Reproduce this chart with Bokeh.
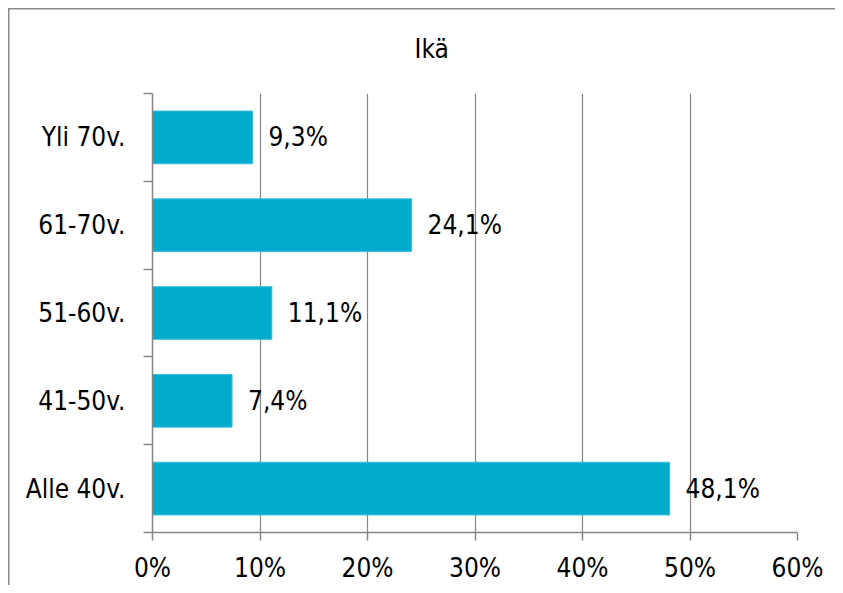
from bokeh.plotting import figure
from bokeh.models import ColumnDataSource, FixedTicker, LabelSet, Range1d
from bokeh.core.properties import value
from bokeh.embed import file_html
from bokeh.resources import INLINE

categories = ["Alle 40v.", "41-50v.", "51-60v.", "61-70v.", "Yli 70v."]
values = [48.1, 7.4, 11.1, 24.1, 9.3]
value_labels = ["48,1%", "7,4%", "11,1%", "24,1%", "9,3%"]
x_ticks = [0, 10, 20, 30, 40, 50, 60]
x_tick_labels = ["0%", "10%", "20%", "30%", "40%", "50%", "60%"]

FONT = "DejaVu Sans Condensed"
FS = "26px"
GRAY = "#868686"

ypos = [i + 0.5 for i in range(len(categories))]
src = ColumnDataSource(dict(y=ypos, v=values, lab=value_labels))

p = figure(width=835, height=585, output_backend="svg", toolbar_location=None,
           x_range=Range1d(0, 60), y_range=Range1d(0, len(categories)),
           min_border_left=152, min_border_right=38, min_border_top=93,
           min_border_bottom=53)
p.outline_line_color = None
p.border_fill_color = None
p.background_fill_color = None
# chart-area border (only its left and top edges are inside the crop)
p.styles = {
    "background-color": "white",
    "background-image": "linear-gradient(#8a8a8a, #8a8a8a), linear-gradient(#8a8a8a, #8a8a8a)",
    "background-size": "1.5px 100%, 100% 1.5px",
    "background-position": "8px 8px, 8px 8px",
    "background-repeat": "no-repeat",
}

p.hbar(y="y", right="v", left=0, height=0.6, source=src,
       fill_color="#00ABCD", line_color="#3BBCD8", line_width=1)

labels = LabelSet(x="v", y="y", text="lab", source=src, x_offset=16,
                  text_baseline="middle", text_align="left",
                  text_font=value(FONT), text_font_size=value(FS), text_color="black")
p.add_layout(labels)

# x axis
p.xaxis.ticker = FixedTicker(ticks=x_ticks)
p.xaxis.major_label_overrides = {t: l for t, l in zip(x_ticks, x_tick_labels)}
p.xaxis.axis_line_color = GRAY
p.xaxis.axis_line_width = 1.5
p.xaxis.major_tick_line_color = GRAY
p.xaxis.major_tick_line_width = 1.5
p.xaxis.major_tick_out = 8
p.xaxis.major_tick_in = 0
p.xaxis.minor_tick_line_color = None
p.xaxis.major_label_text_font = FONT
p.xaxis.major_label_text_font_size = FS
p.xaxis.major_label_text_color = "black"
p.xaxis.major_label_standoff = 12

# y axis
p.yaxis.ticker = FixedTicker(ticks=ypos, minor_ticks=list(range(len(categories) + 1)))
p.yaxis.major_label_overrides = {y: c for y, c in zip(ypos, categories)}
p.yaxis.axis_line_color = GRAY
p.yaxis.axis_line_width = 1.5
p.yaxis.major_tick_line_color = None
p.yaxis.major_tick_out = 0
p.yaxis.major_tick_in = 0
p.yaxis.minor_tick_line_color = GRAY
p.yaxis.minor_tick_line_width = 1.5
p.yaxis.minor_tick_out = 9
p.yaxis.minor_tick_in = 0
p.yaxis.major_label_text_font = FONT
p.yaxis.major_label_text_font_size = FS
p.yaxis.major_label_text_color = "black"
p.yaxis.major_label_standoff = 18

p.xgrid.grid_line_color = GRAY
p.xgrid.grid_line_width = 1.2
p.ygrid.grid_line_color = None

p.title.text = "Ikä"
p.title.align = "left"
p.title.offset = 262
p.title.text_font = FONT
p.title.text_font_size = FS
p.title.text_font_style = "normal"
p.title.text_color = "black"
p.title.standoff = 60

open("out.html", "w").write(file_html(p, INLINE))
